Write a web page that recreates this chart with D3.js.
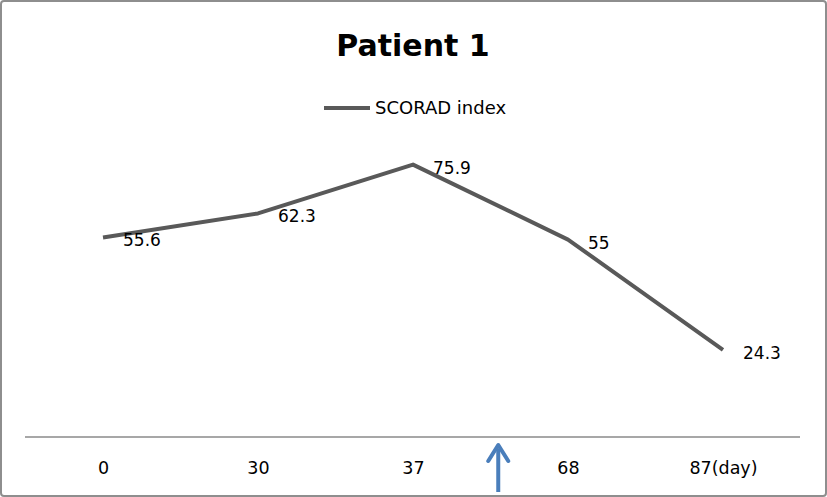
<!DOCTYPE html>
<html lang="en">
<head>
<script type="text/javascript" src="https://cdnjs.cloudflare.com/ajax/libs/d3/7.8.5/d3.min.js"></script>
<style>
    body { margin: 0; background: #fff; }
    text { font-family: "DejaVu Sans", sans-serif; fill: #000; }
</style>
</head>
<body>
<div id="container"></div>
<script type="text/javascript">
    var w = 827;
    var h = 497;

    // data
    var days = ["0", "30", "37", "68", "87(day)"];
    var scorad = [55.6, 62.3, 75.9, 55, 24.3];
    var seriesName = "SCORAD index";
    var title = "Patient 1";
    var arrowAt = 2.55; // treatment start, between day 37 and 68

    var svg = d3.select("#container")
                .append("svg")
                .attr("width", w)
                .attr("height", h);

    // outer frame
    svg.append("rect")
        .attr("x", 1).attr("y", 1)
        .attr("width", w - 2).attr("height", h - 2)
        .attr("rx", 3)
        .attr("fill", "#fff")
        .attr("stroke", "#8e8e8e")
        .attr("stroke-width", 2);

    var xscale = d3.scaleLinear()
                    .domain([0, days.length - 1])
                    .range([103, 723]);

    var yscale = d3.scaleLinear()
                    .domain([0, 90])
                    .range([437, 114]);

    // title
    svg.append("text")
        .attr("x", 413).attr("y", 56)
        .attr("text-anchor", "middle")
        .attr("font-family", "Noto Sans, sans-serif")
        .attr("font-size", 30)
        .attr("font-weight", "bold")
        .text(title);

    // legend
    svg.append("line")
        .attr("x1", 324).attr("x2", 370)
        .attr("y1", 108).attr("y2", 108)
        .attr("stroke", "#595959")
        .attr("stroke-width", 4);
    svg.append("text")
        .attr("x", 375).attr("y", 114)
        .attr("font-family", "Noto Sans, sans-serif")
        .attr("font-size", 18)
        .text(seriesName);

    // category axis
    var xAxis = d3.axisBottom(xscale)
                    .tickValues(d3.range(days.length))
                    .tickSize(0)
                    .tickPadding(25)
                    .tickFormat(function(d) { return days[d]; });

    var gx = svg.append("g")
        .attr("transform", "translate(0," + yscale(0) + ")")
        .call(xAxis);
    gx.select(".domain").remove();
    gx.selectAll("text")
        .attr("font-size", 17.5)
        .attr("font-family", "DejaVu Sans, sans-serif")
        .attr("fill", "#000");

    svg.append("line")
        .attr("x1", 25).attr("x2", 800)
        .attr("y1", yscale(0)).attr("y2", yscale(0))
        .attr("stroke", "#8a8a8a")
        .attr("stroke-width", 1.5);

    // series line
    var line = d3.line()
                .x(function(d, i) { return xscale(i); })
                .y(function(d) { return yscale(d); });

    svg.append("path")
        .datum(scorad)
        .attr("d", line)
        .attr("fill", "none")
        .attr("stroke", "#595959")
        .attr("stroke-width", 4)
        .attr("stroke-linejoin", "round");

    // data labels
    svg.selectAll("text.lbl")
        .data(scorad)
        .enter()
        .append("text")
        .attr("class", "lbl")
        .attr("x", function(d, i) { return xscale(i) + 20; })
        .attr("y", function(d) { return yscale(d) + 9; })
        .attr("font-size", 17)
        .text(function(d) { return d; });

    // arrow
    var ax = xscale(arrowAt);
    svg.append("line")
        .attr("x1", ax).attr("x2", ax)
        .attr("y1", 449).attr("y2", 492)
        .attr("stroke", "#4a7ebb")
        .attr("stroke-width", 4);
    svg.append("path")
        .attr("d", "M" + (ax - 10) + ",461 L" + ax + ",445 L" + (ax + 10) + ",461")
        .attr("fill", "none")
        .attr("stroke", "#4a7ebb")
        .attr("stroke-width", 4)
        .attr("stroke-linecap", "round")
        .attr("stroke-linejoin", "round");
</script>
</body>
</html>
